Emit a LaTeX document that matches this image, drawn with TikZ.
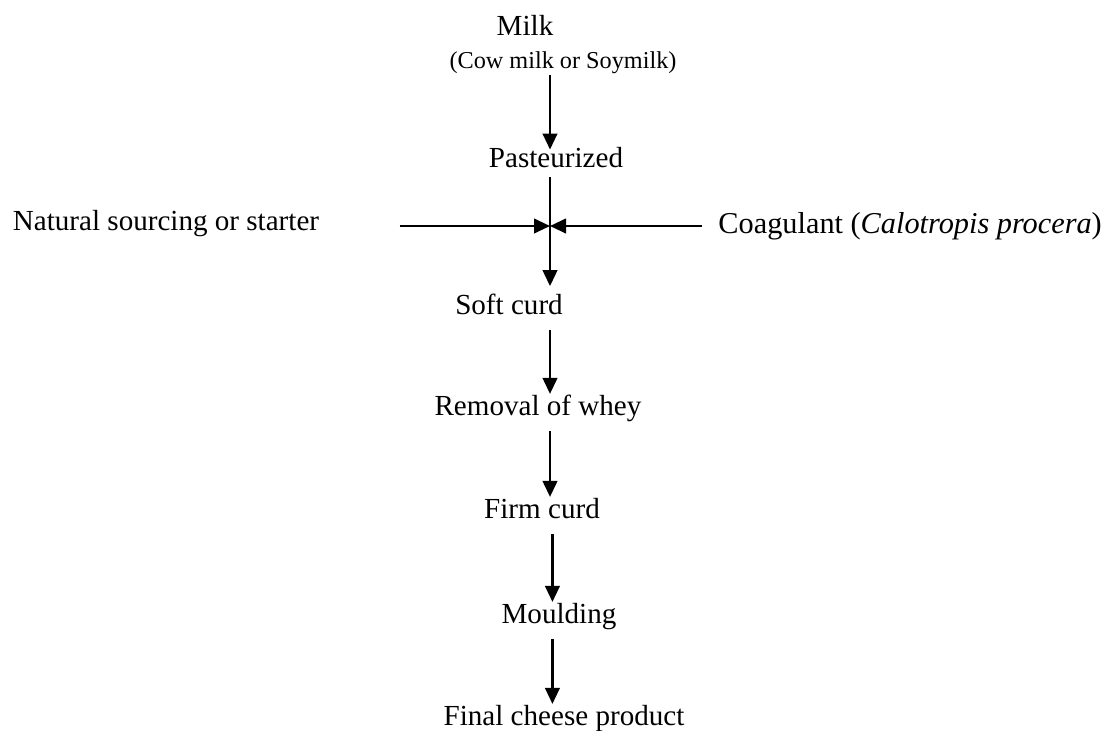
\documentclass[tikz,border=0pt]{standalone}
\usepackage{fontspec}
\setmainfont{Liberation Serif}
\usepackage{tikz}
\usetikzlibrary{arrows.meta, positioning}

\begin{document}
\begin{tikzpicture}[x = 0.0145cm, y = -0.0145cm,
	every node/.style = {anchor = base, inner sep = 0pt, text height = .7em, text depth = .25em, font = \fontsize{12}{14}\selectfont},
	flow/.style = {-{Triangle[length = 6.6pt, width = 6pt]}, line width = 1pt, shorten <= 4pt, shorten >= 1.5pt}]
	\useasboundingbox (0, 0) rectangle (1109, 730);
	\coordinate (join) at (550, 226);
	\node (milk) at (525, 35) {Milk};
	\node[font = \fontsize{10}{12}\selectfont] (cow) at (563, 68) {(Cow milk or Soymilk)};
	\node (pasteur) at (556, 167) {Pasteurized};
	\node (natural) at (166, 230) {Natural sourcing or starter};
	\node[anchor = base west, font = \fontsize{12.5}{14}\selectfont] (coag) at (718, 233) {Coagulant (\textit{Calotropis procera})};
	\node (soft) at (509, 314) {Soft curd};
	\node (whey) at (538, 415) {Removal of whey};
	\node (firm) at (542, 518) {Firm curd};
	\node (mould) at (559, 623) {Moulding};
	\node (final) at (564, 725) {Final cheese product};
	\draw[flow, shorten <= 0pt, shorten >= 0pt] (cow.south -| join) -- (pasteur.north -| join);
	\draw[flow, shorten <= 1.5pt, shorten >= 4.3pt] (pasteur.south -| join) -- (soft.north -| join);
	\draw[flow, shorten <= 33pt, shorten >= 0pt] (natural.east |- join) -- (join);
	\draw[flow, shorten <= 6.6pt, shorten >= 0pt] (coag.west |- join) -- (join);
	\draw[flow] (soft.south -| join) -- (whey.north -| join);
	\draw[flow] (whey.south -| join) -- (firm.north -| join);
	\draw[flow] ([xshift = 1pt]firm.south -| join) -- ([xshift = 1pt]mould.north -| join);
	\draw[flow] ([xshift = 1pt]mould.south -| join) -- ([xshift = 1pt]final.north -| join);
\end{tikzpicture}
\end{document}
